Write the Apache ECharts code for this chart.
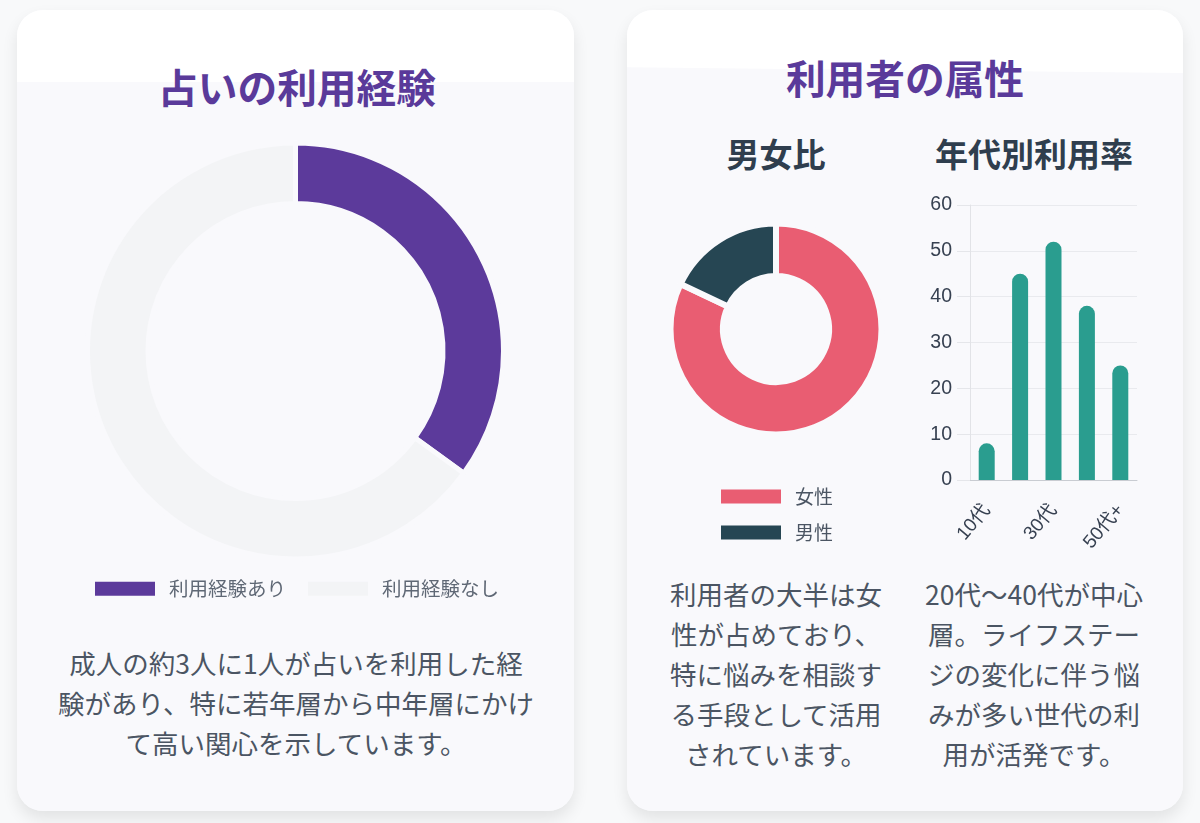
<!DOCTYPE html>
<html lang="ja">
<head>
<meta charset="UTF-8">
<title>占いの利用経験</title>
<script src="https://cdn.jsdelivr.net/npm/echarts@6/dist/echarts.min.js"></script>
<style>
  html, body { margin: 0; padding: 0; width: 1200px; height: 823px; overflow: hidden; background: #f8f9fa;
    font-family: "Noto Sans CJK JP", "Noto Sans", sans-serif; }
  .card { position: absolute; top: 10px; height: 801px; border-radius: 26px; background: #f9f9fc; overflow: hidden; }
  .shadow { position: absolute; top: 10px; height: 801px; border-radius: 26px; box-shadow: 0 8px 16px rgba(0,0,0,.09); }
  .white { position: absolute; left: 0; top: 0; width: 100%; height: 72px; background: #fff; }
  .txt { position: absolute; text-align: center; transform: translateX(-50%); white-space: nowrap; }
  .h2 { font-size: 39.7px; font-weight: 700; color: #5a3a9a; line-height: 50px; }
  .h3 { font-size: 33px; font-weight: 700; color: #2f3e4e; line-height: 44px; }
  .p { font-size: 26.5px; color: #4b5563; line-height: 40px; }
  #main { position: absolute; left: 0; top: 0; width: 1200px; height: 823px; }
</style>
</head>
<body>
<div class="shadow" style="left:17px;width:557px"></div>
<div class="shadow" style="left:627px;width:556px"></div>
<div class="card" style="left:17px;width:557px"><div class="white"></div></div>
<div class="card" style="left:627px;width:556px"><div class="white" style="height:63px;clip-path:polygon(0 0,100% 0,100% 100%,0 91%)"></div></div>

<div class="txt h2" style="left:297px;top:61px">占いの利用経験</div>
<div class="txt h2" style="left:905px;top:52px">利用者の属性</div>
<div class="txt h3" style="left:776px;top:131px">男女比</div>
<div class="txt h3" style="left:1034px;top:131px">年代別利用率</div>

<div class="txt p" style="left:296px;top:643px">成人の約3人に1人が占いを利用した経<br>験があり、特に若年層から中年層にかけ<br>て高い関心を示しています。</div>
<div class="txt p" style="left:776px;top:574px">利用者の大半は女<br>性が占めており、<br>特に悩みを相談す<br>る手段として活用<br>されています。</div>
<div class="txt p" style="left:1034px;top:574px">20代～40代が中心<br>層。ライフステー<br>ジの変化に伴う悩<br>みが多い世代の利<br>用が活発です。</div>

<div id="main"></div>

<script>
    var font = '"Noto Sans CJK JP", sans-serif';

    var experienceNames = ['利用経験あり', '利用経験なし'];
    var experienceValues = [35, 65];
    var experienceColors = ['#5c3a9b', '#f3f4f6'];

    var genderNames = ['女性', '男性'];
    var genderValues = [82, 18];
    var genderColors = ['#e95d72', '#264653'];

    var ageNames = ['10代', '20代', '30代', '40代', '50代+'];
    var ageValues = [8, 45, 52, 38, 25];

    function pieData(names, values, colors) {
        return names.map(function (n, i) {
            return { name: n, value: values[i], itemStyle: { color: colors[i] } };
        });
    }

    var myChart = echarts.init(document.getElementById('main'));
    var option = {
        animation: false,
        backgroundColor: 'transparent',
        textStyle: { fontFamily: font },
        legend: [
            {
                data: experienceNames, orient: 'horizontal', left: 95, top: 579, padding: 0,
                icon: 'rect', itemWidth: 60, itemHeight: 14, itemGap: 22,
                itemStyle: { borderWidth: 0 },
                textStyle: { fontSize: 19.5, color: '#5f6875', fontFamily: font, padding: [0, 0, 0, 9] }
            },
            {
                data: genderNames, orient: 'vertical', left: 721, top: 487, padding: 0,
                icon: 'rect', itemWidth: 60, itemHeight: 14, itemGap: 17,
                itemStyle: { borderWidth: 0 },
                textStyle: { fontSize: 19, color: '#4b5563', fontFamily: font, padding: [0, 0, 0, 9] }
            }
        ],
        grid: { left: 970, right: 63, top: 205, height: 275 },
        xAxis: {
            type: 'category',
            data: ageNames,
            axisLine: { lineStyle: { color: '#c9ccd2' } },
            axisTick: { show: false },
            axisLabel: { interval: 1, rotate: 50, fontSize: 19, color: '#374151', margin: 27, fontFamily: '"Liberation Sans", "Noto Sans CJK JP", sans-serif' }
        },
        yAxis: {
            type: 'value', min: 0, max: 60, interval: 10,
            axisLine: { show: true, lineStyle: { color: '#e2e3e7' } },
            axisTick: { show: true, length: 13, lineStyle: { color: '#e5e6ea' } },
            axisLabel: { fontSize: 19.5, color: '#374151', margin: 18, padding: [3, 0, 0, 0], fontFamily: '"Liberation Sans", sans-serif' },
            splitLine: { lineStyle: { color: '#e9eaee' } }
        },
        series: [
            {
                name: '利用経験', type: 'pie', clockwise: true, startAngle: 90,
                center: [295.5, 351], radius: [147.5, 208],
                label: { show: false }, labelLine: { show: false }, silent: true,
                itemStyle: { borderColor: '#f9f9fc', borderWidth: 5 },
                data: pieData(experienceNames, experienceValues, experienceColors)
            },
            {
                name: '男女比', type: 'pie', clockwise: true, startAngle: 90,
                center: [776, 329], radius: [53, 105.5],
                label: { show: false }, labelLine: { show: false }, silent: true,
                itemStyle: { borderColor: '#f9f9fc', borderWidth: 6 },
                data: pieData(genderNames, genderValues, genderColors)
            },
            {
                name: '年代別利用率', type: 'bar', data: ageValues, barWidth: 16,
                itemStyle: { color: '#2a9d8f', borderRadius: [8, 8, 0, 0] }
            }
        ]
    };
    myChart.setOption(option);
</script>
</body>
</html>
